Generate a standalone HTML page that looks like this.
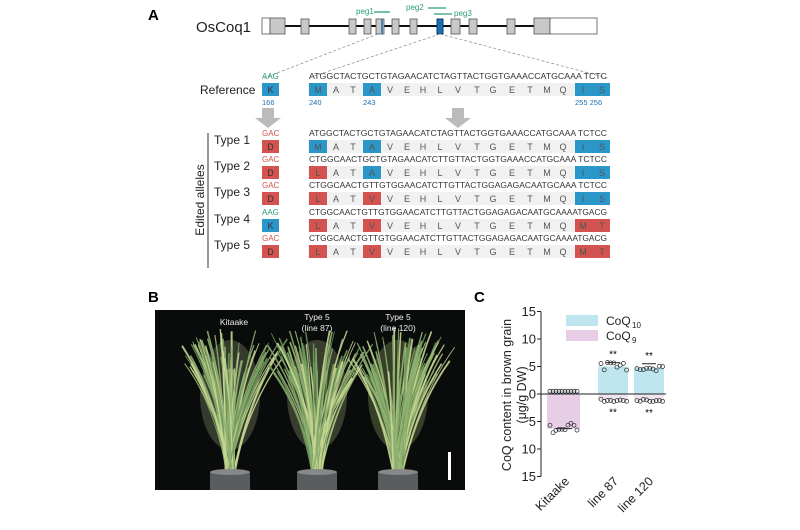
<!DOCTYPE html>
<html><head><meta charset="utf-8"><style>
html,body{margin:0;padding:0;background:#fff;width:800px;height:530px;overflow:hidden}
svg{display:block}
text{font-family:"Liberation Sans",Arial,sans-serif}
</style></head><body>
<svg id="s" width="800" height="530" viewBox="0 0 800 530" xmlns="http://www.w3.org/2000/svg">
<rect width="800" height="530" fill="#fff"/>
<text x="148" y="20" font-size="15" font-weight="bold">A</text>
<text x="196" y="32" font-size="15" fill="#222">OsCoq1</text>
<line x1="262" y1="26" x2="555" y2="26" stroke="#111" stroke-width="2"/>
<rect x="262" y="18" width="8" height="16" fill="#fff" stroke="#555" stroke-width="0.8"/>
<rect x="270" y="18" width="15" height="16" fill="#c8c8c8" stroke="#555" stroke-width="0.8"/>
<g fill="#c8c8c8" stroke="#555" stroke-width="0.8">
<rect x="301" y="19" width="8" height="15"/><rect x="349" y="19" width="7" height="15"/>
<rect x="364" y="19" width="7" height="15"/><rect x="376" y="19" width="8" height="15"/>
<rect x="392" y="19" width="7" height="15"/><rect x="410" y="19" width="7" height="15"/>
<rect x="451" y="19" width="9" height="15"/><rect x="469" y="19" width="8" height="15"/>
<rect x="507" y="19" width="8" height="15"/><rect x="534" y="18" width="16" height="16"/>
</g>
<line x1="382" y1="19" x2="382" y2="34" stroke="#1e6fb0" stroke-width="1.5"/>
<rect x="437" y="19" width="6" height="15" fill="#1e6fb0" stroke="#0b3d6b"/>
<rect x="550" y="18" width="47" height="16" fill="#fff" stroke="#555" stroke-width="0.8"/>
<g font-size="8" fill="#2a9d7a">
<text x="356" y="14">peg1</text><text x="406" y="10">peg2</text><text x="454" y="16">peg3</text>
</g>
<g stroke="#2a9d7a" stroke-width="1.3"><line x1="374" y1="12" x2="390" y2="12"/><line x1="428" y1="8" x2="446" y2="8"/><line x1="434" y1="14" x2="452" y2="14"/></g>
<line x1="378" y1="34" x2="264" y2="78" stroke="#888" stroke-dasharray="3,2" stroke-width="0.7"/>
<line x1="440" y1="34" x2="308" y2="78" stroke="#888" stroke-dasharray="3,2" stroke-width="0.7"/>
<line x1="440" y1="34" x2="608" y2="78" stroke="#888" stroke-dasharray="3,2" stroke-width="0.7"/>
<text x="200" y="94" font-size="12" fill="#222">Reference</text>
<g id="rows"></g>
<polygon points="262,108 274,108 274,118 281,118 268,128 255,118 262,118" fill="#bbb"/>
<polygon points="452,108 464,108 464,118 471,118 458,128 445,118 452,118" fill="#bbb"/>
<line x1="208" y1="133" x2="208" y2="268" stroke="#333" stroke-width="1"/>
<text transform="translate(204,200) rotate(-90)" text-anchor="middle" font-size="12" fill="#222">Edited alleles</text>
<text x="148" y="302" font-size="15" font-weight="bold">B</text>
<rect x="155" y="310" width="310" height="180" fill="#0a0c0c"/>
<g id="plants"></g>
<g fill="#eee" font-size="8.5" text-anchor="middle">
<text x="234" y="325">Kitaake</text>
<text x="317" y="320">Type 5</text><text x="317" y="331">(line 87)</text>
<text x="398" y="320">Type 5</text><text x="398" y="331">(line 120)</text>
</g>
<rect x="448" y="452" width="3" height="28" fill="#fff"/>
<text x="474" y="302" font-size="15" font-weight="bold">C</text>
<g id="chart"></g>
</svg>
<script>
var NS="http://www.w3.org/2000/svg";
function el(p,t,a,txt){var e=document.createElementNS(NS,t);for(var k in a)e.setAttribute(k,a[k]);if(txt!==undefined)e.textContent=txt;p.appendChild(e);return e;}
var rows=document.getElementById('rows');
var aaX=[318,336,353,372,390,407,423,440,458,477,493,512,530,547,563,583,602];
var aas="MATAVEHLVTGETMQIS";
var BLUE="#2b96c8",RED="#d2534f";
var data=[
 {y:90,cod:"AAG",cc:"#2a9d7a",k:"K",kc:BLUE,nt:"ATGGCTACTGCTGTAGAACATCTAGTTACTGGTGAAACCATGCAAA TCTC",a0:"M",c0:BLUE,a3:"A",c3:BLUE,e:"IS",ec:BLUE},
 {y:147,lab:"Type 1",cod:"GAC",cc:RED,k:"D",kc:RED,nt:"ATGGCTACTGCTGTAGAACATCTAGTTACTGGTGAAACCATGCAAA TCTCC",a0:"M",c0:BLUE,a3:"A",c3:BLUE,e:"IS",ec:BLUE},
 {y:173,lab:"Type 2",cod:"GAC",cc:RED,k:"D",kc:RED,nt:"CTGGCAACTGCTGTAGAACATCTTGTTACTGGTGAAACCATGCAAA TCTCC",a0:"L",c0:RED,a3:"A",c3:BLUE,e:"IS",ec:BLUE},
 {y:199,lab:"Type 3",cod:"GAC",cc:RED,k:"D",kc:RED,nt:"CTGGCAACTGTTGTGGAACATCTTGTTACTGGAGAGACAATGCAAA TCTCC",a0:"L",c0:RED,a3:"V",c3:RED,e:"IS",ec:BLUE},
 {y:226,lab:"Type 4",cod:"AAG",cc:"#2a9d7a",k:"K",kc:BLUE,nt:"CTGGCAACTGTTGTGGAACATCTTGTTACTGGAGAGACAATGCAAAATGACG",a0:"L",c0:RED,a3:"V",c3:RED,e:"MT",ec:RED},
 {y:252,lab:"Type 5",cod:"GAC",cc:RED,k:"D",kc:RED,nt:"CTGGCAACTGTTGTGGAACATCTTGTTACTGGAGAGACAATGCAAAATGACG",a0:"L",c0:RED,a3:"V",c3:RED,e:"MT",ec:RED}
];
data.forEach(function(d,i){
 var y=d.y;
 if(d.lab)el(rows,'text',{x:214,y:y-3,'font-size':12,fill:'#222'},d.lab);
 el(rows,'rect',{x:308,y:y-7,width:302,height:13,fill:'#f1f1f1'});
 el(rows,'text',{x:262,y:y-11,'font-size':8,fill:d.cc},d.cod);
 el(rows,'rect',{x:262,y:y-7,width:17,height:13,fill:d.kc});
 el(rows,'text',{x:270.5,y:y+3,'font-size':9,fill:'#333','text-anchor':'middle'},d.k);
 el(rows,'text',{x:309,y:y-11,'font-size':8,fill:'#333',textLength:298,lengthAdjust:'spacingAndGlyphs'},d.nt);
 el(rows,'rect',{x:309,y:y-7,width:18,height:13,fill:d.c0});
 el(rows,'rect',{x:363,y:y-7,width:18,height:13,fill:d.c3});
 el(rows,'rect',{x:575,y:y-7,width:35,height:13,fill:d.ec});
 for(var j=0;j<17;j++){var ch=aas[j];if(j==0)ch=d.a0;if(j==3)ch=d.a3;if(j==15)ch=d.e[0];if(j==16)ch=d.e[1];
  el(rows,'text',{x:aaX[j],y:y+3,'font-size':9,fill:'#555','text-anchor':'middle'},ch);}
 if(i==0){el(rows,'text',{x:262,y:y+15,'font-size':7.5,fill:'#1e6fb0'},'166');
  el(rows,'text',{x:309,y:y+15,'font-size':7.5,fill:'#1e6fb0'},'240');
  el(rows,'text',{x:363,y:y+15,'font-size':7.5,fill:'#1e6fb0'},'243');
  el(rows,'text',{x:575,y:y+15,'font-size':7.5,fill:'#1e6fb0'},'255 256');}
});
var pl=document.getElementById('plants');var seed=7;function r(){seed=(seed*9301+49297)%233280;return seed/233280;}
[[230,'#b9c98a'],[317,'#c2d08e'],[398,'#bfd77a']].forEach(function(p){
 var cx=p[0];
 el(pl,'ellipse',{cx:cx,cy:395,rx:30,ry:55,fill:p[1],opacity:0.25});
 for(var i=0;i<80;i++){var a=(r()-0.5)*0.75;var L=100+r()*45;var bx=cx+(r()-0.5)*10;var by=472;
  var tx=bx+Math.sin(a)*L*1.1,ty=by-Math.cos(a)*L;var mx=bx+Math.sin(a)*L*0.35,my=by-Math.cos(a)*L*0.6;
  var q=r();var col=q<0.4?'#8fb070':(q<0.7?'#c7d592':'#6f9a5c');
  el(pl,'path',{d:'M'+bx+' '+by+' Q'+mx+' '+my+' '+tx+' '+ty,stroke:col,'stroke-width':0.8+r()*1.2,fill:'none',opacity:0.9});}
 el(pl,'rect',{x:cx-20,y:472,width:40,height:18,fill:'#5a5d5f'});
 el(pl,'ellipse',{cx:cx,cy:472,rx:20,ry:3,fill:'#888'});
});
var c=document.getElementById('chart');
var x0=541,y0=394,s=27.5/5;function Y(v){return y0-v*s;}
el(c,'rect',{x:566,y:315,width:32,height:11,fill:'#bfe6ee'});
el(c,'rect',{x:566,y:330,width:32,height:11,fill:'#e8cde6'});
el(c,'text',{x:606,y:325,'font-size':12,fill:'#222'},'CoQ');el(c,'text',{x:632,y:328,'font-size':8,fill:'#222'},'10');
el(c,'text',{x:606,y:340,'font-size':12,fill:'#222'},'CoQ');el(c,'text',{x:632,y:343,'font-size':8,fill:'#222'},'9');
el(c,'rect',{x:547,y:y0,width:33,height:6.3*s,fill:'#e8cde6'});
el(c,'rect',{x:547,y:Y(0.4),width:33,height:0.4*s,fill:'#d7eef2'});
[[598,5.0,1.1],[634,4.8,1.2]].forEach(function(b){
 el(c,'rect',{x:b[0],y:Y(b[1]),width:30,height:b[1]*s,fill:'#bfe6ee'});
 el(c,'rect',{x:b[0],y:y0,width:30,height:b[2]*s,fill:'#f0e6ef'});
 for(var i=0;i<9;i++){el(c,'circle',{cx:b[0]+3+i*3.2,cy:Y(b[1]+(r()-0.5)*1.5),r:2,fill:'none',stroke:'#222','stroke-width':0.7});
  el(c,'circle',{cx:b[0]+3+i*3.2,cy:Y(-b[2]+(r()-0.5)*0.5),r:2,fill:'none',stroke:'#222','stroke-width':0.7});}
 el(c,'line',{x1:b[0]+8,x2:b[0]+22,y1:Y(b[1]+0.7),y2:Y(b[1]+0.7),stroke:'#222'});
 el(c,'text',{x:b[0]+15,y:Y(b[1]+1.6),'font-size':10,'text-anchor':'middle'},'**');
 el(c,'text',{x:b[0]+15,y:Y(-b[2]-2.8),'font-size':10,'text-anchor':'middle'},'**');
});
for(var i=0;i<10;i++){el(c,'circle',{cx:550+i*3,cy:Y(0.5),r:2,fill:'none',stroke:'#222','stroke-width':0.7});
 el(c,'circle',{cx:550+i*3,cy:Y(-6.3+(r()-0.5)*2),r:2,fill:'none',stroke:'#222','stroke-width':0.7});}
el(c,'line',{x1:556,x2:572,y1:Y(-6.3),y2:Y(-6.3),stroke:'#222'});
el(c,'line',{x1:x0,x2:x0,y1:Y(15),y2:Y(-15),stroke:'#222','stroke-width':1});
el(c,'line',{x1:x0,x2:666,y1:y0,y2:y0,stroke:'#222','stroke-width':1});
[15,10,5,0,-5,-10,-15].forEach(function(v){el(c,'line',{x1:x0-4,x2:x0,y1:Y(v),y2:Y(v),stroke:'#222'});
 el(c,'text',{x:x0-5,y:Y(v)+4.5,'font-size':13,'text-anchor':'end',fill:'#222'},Math.abs(v));});
el(c,'text',{transform:'translate(511,395) rotate(-90)','font-size':12.5,'text-anchor':'middle',fill:'#222'},'CoQ content in brown grain');
el(c,'text',{transform:'translate(526,395) rotate(-90)','font-size':12.5,'text-anchor':'middle',fill:'#222'},'(μg/g DW)');
[['Kitaake',566],['line 87',615],['line 120',650]].forEach(function(t){
 el(c,'text',{transform:'translate('+(t[1]+4)+',482) rotate(-45)','font-size':12.5,'text-anchor':'end',fill:'#222'},t[0]);});
</script>
</body></html>
